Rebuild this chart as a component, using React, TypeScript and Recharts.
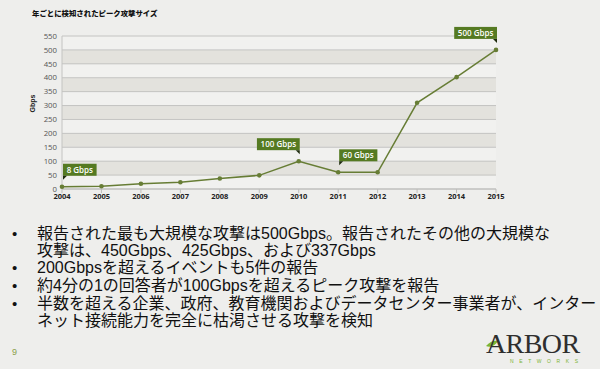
import React from 'react';
import { LineChart, Line, XAxis, YAxis, CartesianGrid, LabelList } from 'recharts';

const years = [2004, 2005, 2006, 2007, 2008, 2009, 2010, 2011, 2012, 2013, 2014, 2015];
const peakGbps = [8, 10, 19, 24, 38, 49, 100, 60, 60, 310, 402, 500];
const callouts = ['8 Gbps', '', '', '', '', '', '100 Gbps', '60 Gbps', '', '', '', '500 Gbps'];
const calloutSide = ['left', '', '', '', '', '', 'right', 'left', '', '', '', 'right'];
const yTicks = [0, 50, 100, 150, 200, 250, 300, 350, 400, 450, 500, 550];

const title = '年ごとに検知されたピーク攻撃サイズ';
const bullets = [
  ['報告された最も大規模な攻撃は500Gbps。報告されたその他の大規模な', '攻撃は、450Gbps、425Gbps、および337Gbps'],
  ['200Gbpsを超えるイベントも5件の報告'],
  ['約4分の1の回答者が100Gbpsを超えるピーク攻撃を報告'],
  ['半数を超える企業、政府、教育機関およびデータセンター事業者が、インター', 'ネット接続能力を完全に枯渇させる攻撃を検知'],
];

const data = years.map((y, i) => ({ year: y, value: peakGbps[i] }));

const GREEN = '#557a22';
const LINE = '#677d35';

const Callout = (props: any) => {
  const { x, y, index } = props;
  const text = callouts[index];
  if (!text) return null;
  const w = text.length * 4.6 + 6;
  const h = 12;
  const right = calloutSide[index] === 'right';
  const bx = right ? x + 1 - w : x + 1;
  const by = y - 11 - h;
  const tail = right
    ? `M${bx + w - 4},${by + h} L${bx + w},${by + h} L${bx + w},${by + h + 4} Z`
    : `M${bx},${by + h} L${bx + 4},${by + h} L${bx},${by + h + 4} Z`;
  return (
    <g>
      <rect x={bx} y={by} width={w} height={h} fill={GREEN} />
      <path d={tail} fill="#1d2a0c" />
      <text x={bx + w / 2} y={by + h / 2 + 3} textAnchor="middle" fill="#fff" fontSize={8} fontWeight={600} fontFamily="Open Sans, Liberation Sans">
        {text}
      </text>
    </g>
  );
};

export default function App() {
  const font = '"Liberation Sans", Arial, "Noto Sans CJK JP", sans-serif';
  const starts = [225, 259, 277, 295];
  return (
    <div style={{ position: 'absolute', left: 0, top: 0, width: 600, height: 369, background: '#eeeeec', overflow: 'hidden', fontFamily: font }}>
      <div style={{ position: 'absolute', left: 32, top: 7, fontSize: 7.4, fontWeight: 900, fontFamily: '"Noto Sans CJK JP", sans-serif', color: '#111', whiteSpace: 'nowrap' }}>
        {title}
      </div>
      <div style={{ position: 'absolute', left: 0, top: 0 }}>
        <LineChart width={600} height={210} data={data} margin={{ top: 36, right: 104, bottom: 0, left: 32 }}>
          <CartesianGrid
            vertical={false}
            stroke="#c4c4c2"
            horizontalFill={['#f1f1ef', '#e3e2dd']}
            fillOpacity={1}
          />
          <XAxis
            dataKey="year"
            type="number"
            domain={[2004, 2015]}
            ticks={years}
            height={21}
            stroke="#bdbdbb"
            tickSize={4}
            tickMargin={1}
            tick={{ fontSize: 7.5, fontWeight: 700, fill: '#222', fontFamily: 'Open Sans, Liberation Sans' }}
          />
          <YAxis
            domain={[0, 550]}
            ticks={yTicks}
            width={30}
            stroke="#c4c4c2"
            tickLine={false}
            tickSize={0}
            tickMargin={5}
            interval={0}
            tick={{ fontSize: 7.8, fill: '#555', fontFamily: 'Open Sans, Liberation Sans' }}
            label={{ value: 'Gbps', angle: -90, position: 'insideLeft', offset: 1, fontSize: 7, fontWeight: 700, fill: '#222' }}
          />
          <Line
            type="linear"
            dataKey="value"
            stroke={LINE}
            strokeWidth={1.5}
            dot={{ r: 2.3, fill: LINE, stroke: LINE, strokeWidth: 0 }}
            isAnimationActive={false}
          >
            <LabelList dataKey="value" content={<Callout />} />
          </Line>
        </LineChart>
      </div>
      {bullets.map((lines, bi) => (
        <React.Fragment key={bi}>
          <div style={{ position: 'absolute', left: 12, top: starts[bi], fontSize: 15, lineHeight: '18px', color: '#111' }}>•</div>
          {lines.map((ln, li) => (
            <div key={li} style={{ position: 'absolute', left: 37, top: starts[bi] + li * 17, fontSize: 16, lineHeight: '18px', color: '#111', whiteSpace: 'nowrap' }}>
              {ln}
            </div>
          ))}
        </React.Fragment>
      ))}
      <div style={{ position: 'absolute', left: 12, top: 347, fontSize: 9, color: '#8aa04a' }}>9</div>
      <svg style={{ position: 'absolute', left: 480, top: 324 }} width={115} height={44}>
        <path d="M6,22 C10,17 15,16 18,17 C15,22 10,24 6,22 Z" fill="#7db432" />
        <text x={6} y={29} fontFamily='"Liberation Serif", "DejaVu Serif", serif' fontSize={28} fill="#2e2e2e" letterSpacing={-0.6}>ARBOR</text>
        <text x={30} y={39} fontFamily='"Liberation Sans", sans-serif' fontSize={5} fill="#7db432" letterSpacing={5.6}>NETWORKS</text>
      </svg>
    </div>
  );
}
